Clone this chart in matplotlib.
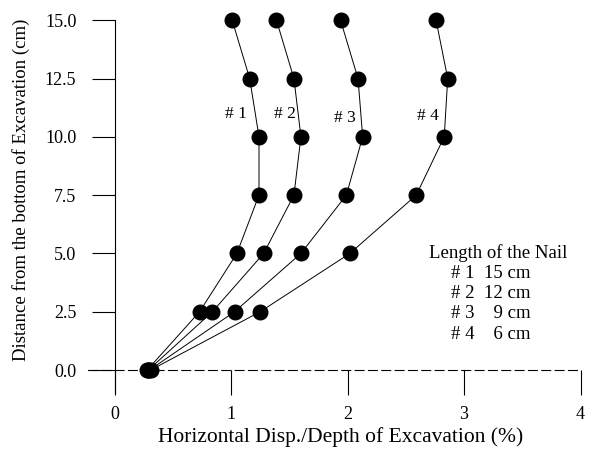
import matplotlib
matplotlib.use('Agg')
import matplotlib.pyplot as plt

plt.rcParams['font.family'] = ['Liberation Serif', 'DejaVu Serif']

depth = [0.0, 2.5, 5.0, 7.5, 10.0, 12.5, 15.0]

# horizontal displacement / depth of excavation (%) for each nail length
disp_1 = [0.28, 0.73, 1.05, 1.24, 1.24, 1.16, 1.01]
disp_2 = [0.29, 0.84, 1.28, 1.54, 1.60, 1.54, 1.39]
disp_3 = [0.30, 1.03, 1.60, 1.99, 2.13, 2.09, 1.94]
disp_4 = [0.31, 1.25, 2.02, 2.59, 2.83, 2.86, 2.76]

series = [disp_1, disp_2, disp_3, disp_4]
names = ['# 1', '# 2', '# 3', '# 4']
name_pos = [(1.04, 11.0), (1.46, 11.0), (1.98, 10.8), (2.69, 10.9)]

legend_title = 'Length of the Nail'
legend_rows = ['# 1  15 cm', '# 2  12 cm', '# 3    9 cm', '# 4    6 cm']

xticks = [0, 1, 2, 3, 4]
yticks = [0.0, 2.5, 5.0, 7.5, 10.0, 12.5, 15.0]

fig = plt.figure(figsize=(5.99, 4.55), dpi=100)
ax = fig.add_axes([0.1426, 0.0842, 0.846, 0.897])

for d in series:
    ax.plot(d, depth, color='black', lw=0.7, marker='o', ms=10.5,
            markerfacecolor='black', markeredgecolor='black', zorder=3)

for n, (x, y) in zip(names, name_pos):
    ax.text(x, y, n, fontsize=12.5, ha='center', va='center')

ax.text(3.29, 5.0, legend_title, fontsize=13.5, ha='center', va='center')
for i, r in enumerate(legend_rows):
    ax.text(2.89, 4.15 - i * 0.87, r, fontsize=13.5, ha='left', va='center')

ax.set_xlim(-0.25, 4.1)
ax.set_ylim(-2.0, 15.5)

ax.spines['top'].set_visible(False)
ax.spines['right'].set_visible(False)
ax.spines['left'].set_position(('data', 0))
ax.spines['left'].set_bounds(-1.0, 15.0)
ax.spines['bottom'].set_position(('data', 0))
ax.spines['bottom'].set_bounds(-0.23, 4.0)
ax.spines['left'].set_linewidth(0.8)
ax.spines['bottom'].set_linewidth(0.8)
ax.spines['bottom'].set_linestyle((0, (8, 4)))

ax.set_xticks(xticks)
ax.set_xticklabels([str(t) for t in xticks])
ax.set_yticks(yticks)
ax.set_yticklabels(['%.1f' % t for t in yticks])
ax.tick_params(axis='y', direction='out', length=16.5, width=0.8, pad=11, labelsize=13)
ax.tick_params(axis='x', direction='out', length=18, width=0.8, pad=8, labelsize=13)

fig.text(0.568, 0.04, 'Horizontal Disp./Depth of Excavation (%)', fontsize=15.5,
         ha='center', va='center')
fig.text(0.035, 0.582, 'Distance from the bottom of Excavation (cm)', fontsize=13.5,
         ha='center', va='center', rotation=90)

fig.savefig('out.png', dpi=100)
